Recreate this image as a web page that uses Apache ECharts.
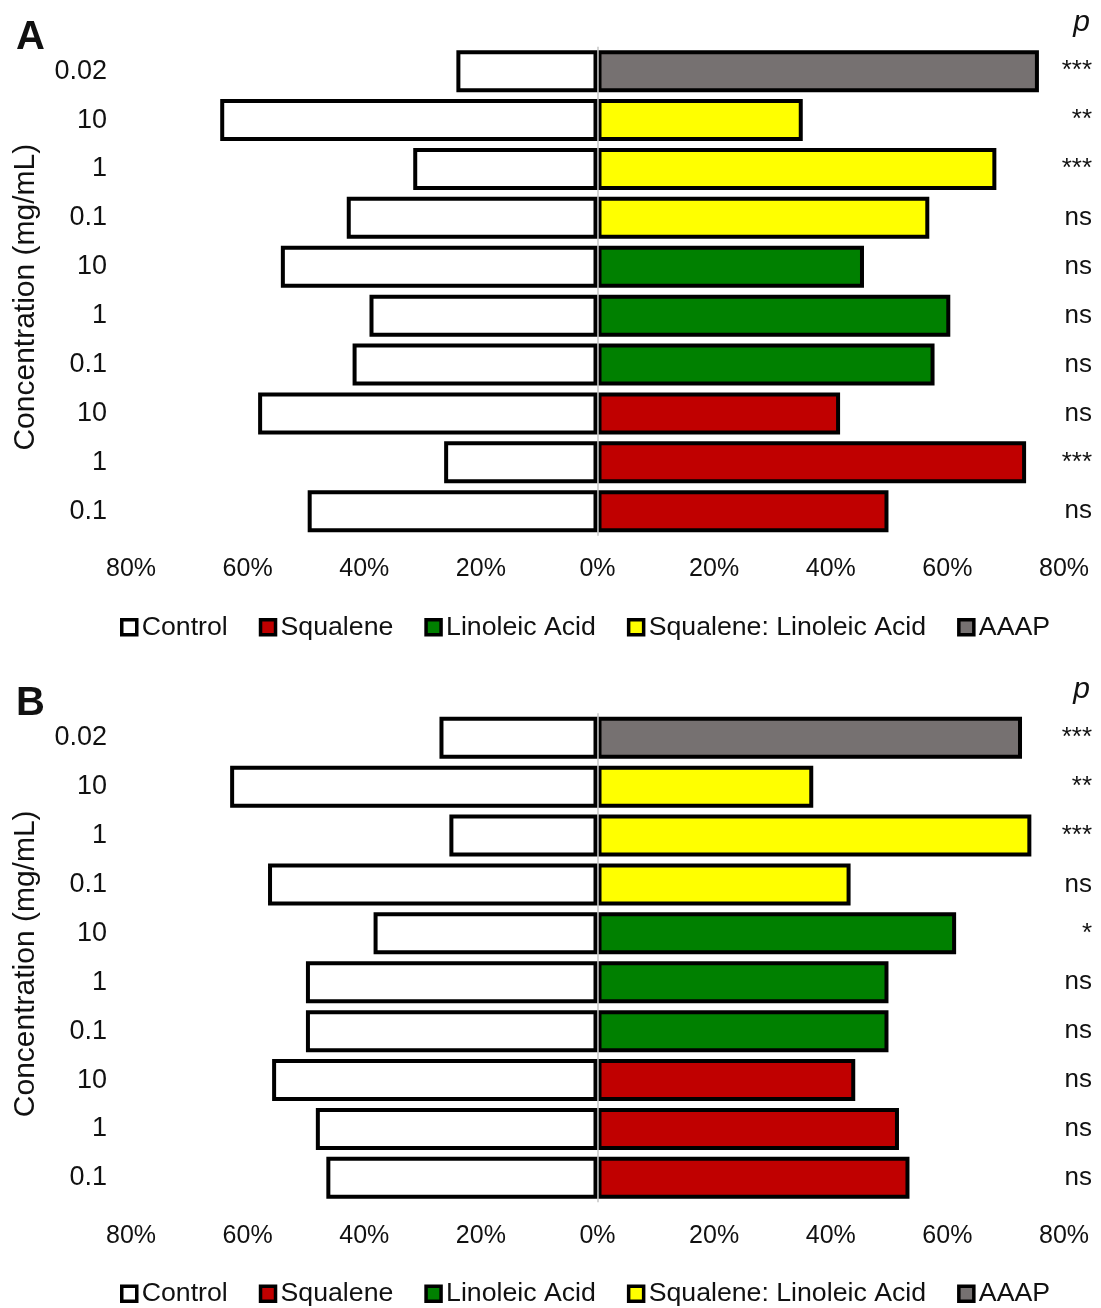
<!DOCTYPE html>
<html>
<head>
<meta charset="utf-8">
<script src="https://cdn.jsdelivr.net/npm/echarts@6/dist/echarts.min.js"></script>
<style>
  html, body { margin: 0; padding: 0; background: #fff; }
  #chart { width: 1101px; height: 1308px; }
</style>
</head>
<body>
<div id="chart"></div>
<script>
// Rows, top to bottom: AAAP, then Squalene: Linoleic Acid, Linoleic Acid, Squalene (10, 1, 0.1 mg/mL each)
const concentrations = ['0.02', '10', '1', '0.1', '10', '1', '0.1', '10', '1', '0.1'];
const treatmentNames = ['Squalene', 'Linoleic Acid', 'Squalene: Linoleic Acid', 'AAAP'];
const treatmentColors = ['#C00000', '#008000', '#FFFF00', '#767171'];
const rowTreatment = [3, 2, 2, 2, 1, 1, 1, 0, 0, 0];

// Panel A (percent)
const controlA = [24.2, 64.7, 31.6, 43.0, 54.3, 39.1, 42.0, 58.2, 26.3, 49.7];
const treatedA = [75.7, 35.2, 68.4, 56.9, 45.7, 60.5, 57.8, 41.6, 73.5, 49.9];
const sigA = ['***', '**', '***', 'ns', 'ns', 'ns', 'ns', 'ns', '***', 'ns'];

// Panel B (percent)
const controlB = [27.1, 63.0, 25.4, 56.5, 38.4, 50.0, 50.0, 55.8, 48.3, 46.5];
const treatedB = [72.8, 37.0, 74.4, 43.4, 61.5, 49.9, 49.9, 44.2, 51.7, 53.5];
const sigB = ['***', '**', '***', 'ns', '*', 'ns', 'ns', 'ns', 'ns', 'ns'];

const xTicks = { min: -80, max: 80, interval: 20 };

const FONT = "'Liberation Sans', Arial, Helvetica, sans-serif";
const TEXT = '#111';

const panels = [
  { letter: 'A', control: controlA, treated: treatedA, sig: sigA, top: 46.7 },
  { letter: 'B', control: controlB, treated: treatedB, sig: sigB, top: 713.3 }
];
const GRID_H = 489;

const grid = [], xAxis = [], yAxis = [], series = [], legend = [], title = [];

panels.forEach((p, k) => {
  grid.push({ left: 131, right: 37, top: p.top, height: GRID_H });

  xAxis.push({
    type: 'value', gridIndex: k,
    min: xTicks.min, max: xTicks.max, interval: xTicks.interval,
    axisLine: { show: false }, axisTick: { show: false }, splitLine: { show: false },
    axisLabel: {
      margin: 21, fontSize: 25, color: TEXT, fontFamily: FONT,
      formatter: v => Math.abs(v) + '%'
    }
  });

  yAxis.push({
    type: 'category', gridIndex: k, inverse: true, data: concentrations,
    position: 'left',
    axisLine: { show: false, onZero: false }, axisTick: { show: false },
    axisLabel: { margin: 24, fontSize: 27, color: TEXT, fontFamily: FONT },
    name: 'Concentration (mg/mL)', nameLocation: 'middle', nameGap: 90,
    nameTextStyle: { fontSize: 30, color: TEXT, fontFamily: FONT, padding: [0, 12, 0, 0] }
  });
  yAxis.push({
    type: 'category', gridIndex: k, inverse: true, data: p.sig,
    position: 'right',
    axisLine: { show: false, onZero: false }, axisTick: { show: false },
    axisLabel: { margin: 28, align: 'right', fontSize: 26, color: TEXT, fontFamily: FONT }
  });

  const barBase = {
    type: 'bar', xAxisIndex: k, yAxisIndex: 2 * k,
    barWidth: 42, barGap: '-100%'
  };

  series.push(Object.assign({}, barBase, {
    name: 'Control',
    data: p.control.map(v => -v),
    itemStyle: { color: '#FFFFFF', borderColor: '#000', borderWidth: 4 },
    markLine: {
      silent: true, symbol: ['none', 'none'], label: { show: false },
      lineStyle: { color: '#C4C4C4', width: 1.5, type: 'solid' },
      data: [{ xAxis: 0 }], z: 10
    }
  }));

  treatmentNames.forEach((name, t) => {
    series.push(Object.assign({}, barBase, {
      name: name,
      data: p.treated.map((v, i) => rowTreatment[i] === t ? v : '-'),
      itemStyle: { color: treatmentColors[t], borderColor: '#000', borderWidth: 4 }
    }));
  });

  legend.push({
    left: 120, top: p.top + GRID_H + 78, padding: 0,
    icon: 'rect', itemWidth: 15, itemHeight: 15, itemGap: 31,
    itemStyle: { borderColor: '#000', borderWidth: 3.5 },
    textStyle: { fontSize: 26.7, color: TEXT, fontFamily: FONT, padding: [0, 0, 0, 0] },
    data: ['Control'].concat(treatmentNames)
  });

  title.push({
    text: p.letter, left: 16, top: p.top - 29, padding: 0,
    textStyle: { fontSize: 40, fontWeight: 'bold', color: TEXT, fontFamily: FONT }
  });
  title.push({
    text: 'p', right: 11, top: p.top - 39, padding: 0,
    textStyle: { fontSize: 30, fontStyle: 'italic', fontWeight: 'normal', color: TEXT, fontFamily: FONT }
  });
});

const chart = echarts.init(document.getElementById('chart'), null, { renderer: 'canvas' });
chart.setOption({
  backgroundColor: '#fff',
  animation: false,
  title, grid, xAxis, yAxis, series, legend
});
</script>
</body>
</html>
